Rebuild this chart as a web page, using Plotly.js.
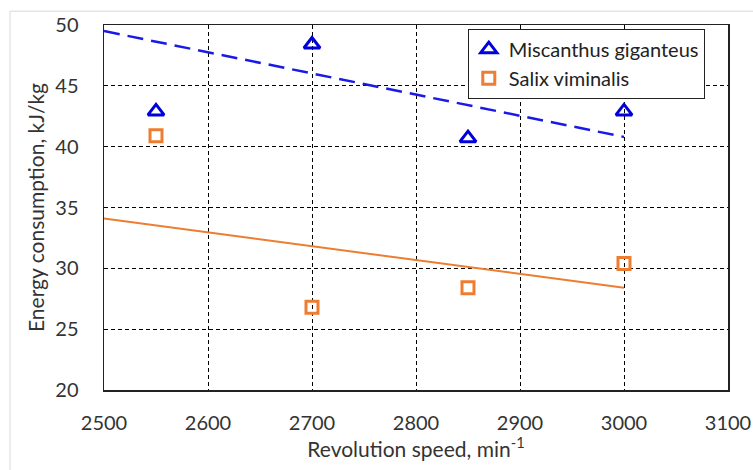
<!DOCTYPE html>
<html>
<head>
<meta charset="utf-8">
<script src="https://cdn.plot.ly/plotly-3.0.1.min.js"></script>
<style>html,body{margin:0;padding:0;background:#fff;}#chart{width:753px;height:470px;}</style>
</head>
<body>
<div id="chart"></div>
<script>
const speeds = [2550, 2700, 2850, 3000];
const miscanthus = [42.9, 48.4, 40.7, 42.9];
const salix = [40.9, 26.8, 28.4, 30.4];
const trendX = [2500, 3000];
const miscanthusTrend = [49.5, 40.8];
const salixTrend = [34.1, 28.4];
const xTicks = [2500, 2600, 2700, 2800, 2900, 3000, 3100];
const yTicks = [20, 25, 30, 35, 40, 45, 50];

const blue = '#0000dd';
const orange = '#ed7d31';
const font = 'Lato, "Open Sans", sans-serif';

const traces = [
  {x: trendX, y: miscanthusTrend, mode: 'lines', showlegend: false, hoverinfo: 'skip',
   line: {color: '#1a1ae6', width: 2.5, dash: '16px,8px'}},
  {x: trendX, y: salixTrend, mode: 'lines', showlegend: false, hoverinfo: 'skip',
   line: {color: orange, width: 2}},
  {x: speeds, y: miscanthus, mode: 'markers', name: 'Miscanthus giganteus',
   marker: {symbol: 'triangle-up-open', size: 14, color: blue, line: {width: 3, color: blue}}},
  {x: speeds, y: salix, mode: 'markers', name: 'Salix viminalis',
   marker: {symbol: 'square-open', size: 12, color: orange, line: {width: 3, color: orange}}}
];

const layout = {
  width: 753, height: 470,
  margin: {l: 104, r: 25, t: 25, b: 80},
  paper_bgcolor: '#fff', plot_bgcolor: '#fff',
  font: {family: font, size: 20, color: '#333'},
  xaxis: {
    range: [2500, 3100], tickvals: xTicks, ticktext: xTicks.map(String),
    showgrid: true, gridcolor: '#000', griddash: '4px,3px', gridwidth: 1,
    showline: true, linecolor: '#222', linewidth: 1.5, mirror: true,
    ticks: '', ticklabelstandoff: 14, zeroline: false,
    tickfont: {family: font, size: 20, color: '#333'},
    title: {text: 'Revolution speed, min<sup>-1</sup>', font: {family: font, size: 21, color: '#333'}, standoff: 0}
  },
  yaxis: {
    range: [20, 50], tickvals: yTicks, ticktext: yTicks.map(String),
    showgrid: true, gridcolor: '#000', griddash: '4px,3px', gridwidth: 1,
    showline: true, linecolor: '#222', linewidth: 1.5, mirror: true,
    ticks: '', ticklabelstandoff: 20, zeroline: false,
    tickfont: {family: font, size: 20, color: '#333'},
    title: {text: 'Energy consumption, kJ/kg', font: {family: font, size: 21, color: '#333'}, standoff: 5}
  },
  legend: {
    x: 0.583, y: 0.99, xanchor: 'left', yanchor: 'top',
    bgcolor: '#fff', bordercolor: '#222', borderwidth: 1,
    font: {family: font, size: 20, color: '#222'},
    tracegroupgap: 0, itemwidth: 30
  },
  shapes: [
    {type: 'line', xref: 'paper', yref: 'paper', x0: -0.1506, x1: -0.1506, y0: -0.23, y1: 1.038,
     line: {color: '#d9d9d9', width: 1}, layer: 'below'},
    {type: 'line', xref: 'paper', yref: 'paper', x0: -0.1506, x1: 1.05, y0: 1.038, y1: 1.038,
     line: {color: '#d9d9d9', width: 1}, layer: 'below'}
  ],
  showlegend: true
};

Plotly.newPlot('chart', traces, layout, {displayModeBar: false, staticPlot: true});
</script>
</body>
</html>
